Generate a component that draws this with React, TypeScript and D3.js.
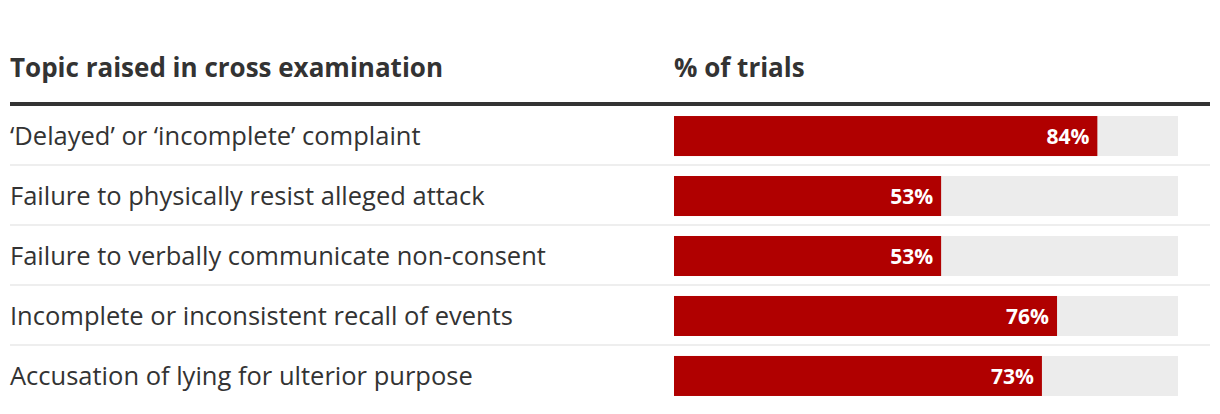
import React from "react";
import * as d3 from "d3";

const topics = [
  "‘Delayed’ or ‘incomplete’ complaint",
  "Failure to physically resist alleged attack",
  "Failure to verbally communicate non-consent",
  "Incomplete or inconsistent recall of events",
  "Accusation of lying for ulterior purpose",
];
const percents = [84, 53, 53, 76, 73];
const headerLeft = "Topic raised in cross examination";
const headerRight = "% of trials";

const W = 1220;
const H = 414;
const FONT = "'Open Sans', 'Noto Sans', sans-serif";

export default function App() {
  const x = d3.scaleLinear().domain([0, 100]).range([674, 1178]);
  const y = d3
    .scaleBand<number>()
    .domain(d3.range(topics.length))
    .range([106, 406])
    .paddingInner(0.333)
    .paddingOuter(0.167);

  return (
    <svg
      width={W}
      height={H}
      style={{ position: "absolute", left: 0, top: 0, background: "#fff" }}
      fontFamily={FONT}
    >
      <text x={10} y={76.5} fontSize={26} fontWeight={700} fill="#333">
        {headerLeft}
      </text>
      <text x={674} y={76.5} fontSize={26} fontWeight={700} fill="#333">
        {headerRight}
      </text>
      <rect x={10} y={102} width={1200} height={4} fill="#333" />
      {topics.map((t, i) => {
        const yy = y(i)!;
        const bh = y.bandwidth();
        const cy = yy + bh / 2;
        return (
          <g key={t}>
            <text x={10} y={cy} dy="0.35em" fontSize={25.5} fill="#333">
              {t}
            </text>
            <rect x={x(0)} y={yy} width={x(100) - x(0)} height={bh} fill="#ececec" />
            <rect
              x={x(0)}
              y={yy}
              width={x(percents[i]) - x(0)}
              height={bh}
              fill="#b00000"
            />
            <text
              x={x(percents[i]) - 8}
              y={cy}
              dy="0.36em"
              textAnchor="end"
              fontSize={21}
              fontWeight={700}
              fill="#fff"
            >
              {percents[i]}%
            </text>
            {i < topics.length - 1 && (
              <rect x={10} y={yy + bh + 8} width={1200} height={2} fill="#eeeeee" />
            )}
          </g>
        );
      })}
    </svg>
  );
}
